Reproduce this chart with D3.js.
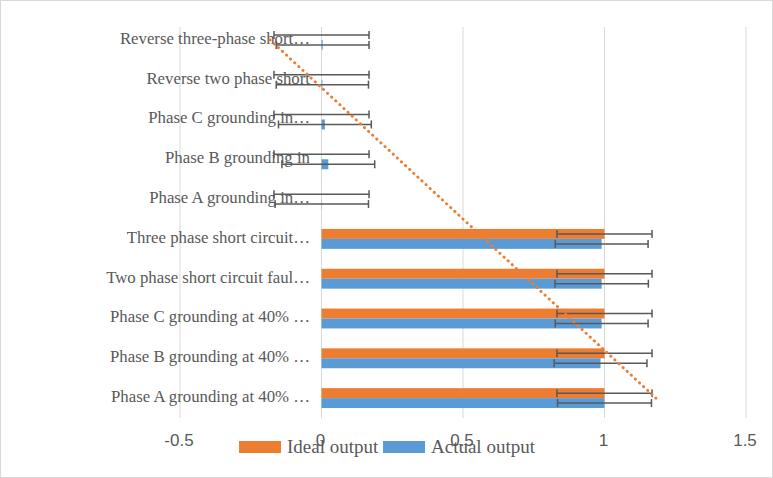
<!DOCTYPE html>
<html><head><meta charset="utf-8">
<script src="https://cdn.jsdelivr.net/npm/d3@7"></script>
<style>body{margin:0;background:#fff}svg{display:block}</style>
</head><body>
<script>
// Categories listed bottom-to-top (Excel order)
const categories = [
  "Phase A grounding at 40% …",
  "Phase B grounding at 40% …",
  "Phase C grounding at 40% …",
  "Two phase short circuit faul…",
  "Three phase short circuit…",
  "Phase A grounding in…",
  "Phase B grounding in",
  "Phase C grounding in…",
  "Reverse two phase short",
  "Reverse three-phase short…"
];
const seriesNames = ["Ideal output", "Actual output"];
const idealValues  = [1, 1, 1, 1, 1, 0, 0, 0, 0, 0];
const actualValues = [1.0, 0.986, 0.99, 0.99, 0.99, 0.001, 0.024, 0.012, 0.003, 0.004];
const idealErrors  = [0.168, 0.168, 0.168, 0.168, 0.168, 0.168, 0.168, 0.168, 0.168, 0.168];
const actualErrors = [0.166, 0.164, 0.164, 0.165, 0.164, 0.165, 0.164, 0.164, 0.163, 0.164];
const xTicks = [-0.5, 0, 0.5, 1, 1.5];
const xTickLabels = ["-0.5", "0", "0.5", "1", "1.5"];
const colors = ["#ED7D31", "#5B9BD5"];

const W = 773, H = 478;
const serif = "Liberation Serif, Times New Roman, serif";
const sans = "Liberation Sans, Arial, sans-serif";
const svg = d3.select("body").append("svg").attr("width", W).attr("height", H);
svg.append("rect").attr("x", 0.5).attr("y", 0.5).attr("width", W - 1).attr("height", H - 1)
  .attr("fill", "#fff").attr("stroke", "#d9d9d9");

const x = d3.scaleLinear().domain([-0.5, 1.5]).range([180, 746]);
const y = d3.scaleBand().domain(categories).range([418, 20]).paddingInner(0.5).paddingOuter(0.25);
const sub = d3.scaleBand().domain(seriesNames).range([0, y.bandwidth()]);

// gridlines
svg.append("g").selectAll("line").data(xTicks).join("line")
  .attr("x1", d => x(d)).attr("x2", d => x(d)).attr("y1", 27).attr("y2", 418)
  .attr("stroke", "#d9d9d9").attr("stroke-width", 1);

// tick labels
svg.append("g").selectAll("text").data(xTicks).join("text")
  .attr("x", d => x(d) - 1).attr("y", 442).attr("text-anchor", "middle")
  .attr("dominant-baseline", "middle")
  .attr("font-family", sans).attr("font-size", 17)
  .attr("fill", "#595959").text((d, i) => xTickLabels[i]);

// category labels
svg.append("g").selectAll("text").data(categories).join("text")
  .attr("x", 310).attr("y", d => y(d) + y.bandwidth() / 2).attr("text-anchor", "end")
  .attr("dominant-baseline", "middle")
  .attr("font-family", serif).attr("font-size", 16.8)
  .attr("fill", "#595959").text(d => d);

const allSeries = [
  {name: seriesNames[0], values: idealValues, errors: idealErrors, color: colors[0]},
  {name: seriesNames[1], values: actualValues, errors: actualErrors, color: colors[1]}
];

// bars
allSeries.forEach(s => {
  svg.append("g").selectAll("rect").data(categories).join("rect")
    .attr("x", (c, i) => Math.min(x(0), x(s.values[i])))
    .attr("width", (c, i) => Math.abs(x(s.values[i]) - x(0)))
    .attr("y", c => y(c) + sub(s.name))
    .attr("height", sub.bandwidth())
    .attr("fill", s.color);
});

// error bars
allSeries.forEach(s => {
  const g = svg.append("g").attr("stroke", "#595959").attr("stroke-width", 1.5);
  categories.forEach((c, i) => {
    const cy = y(c) + sub(s.name) + sub.bandwidth() / 2;
    const lo = x(s.values[i] - s.errors[i]), hi = x(s.values[i] + s.errors[i]);
    g.append("line").attr("x1", lo).attr("x2", hi).attr("y1", cy).attr("y2", cy);
    g.append("line").attr("x1", lo).attr("x2", lo).attr("y1", cy - 4).attr("y2", cy + 4);
    g.append("line").attr("x1", hi).attr("x2", hi).attr("y1", cy - 4).attr("y2", cy + 4);
  });
});

// linear trendline of Ideal output vs category index
const idx = idealValues.map((v, i) => i + 1);
const mx = d3.mean(idx), my = d3.mean(idealValues);
const slope = d3.sum(idx, (t, i) => (t - mx) * (idealValues[i] - my)) / d3.sum(idx, t => (t - mx) ** 2);
const icpt = my - slope * mx;
const trend = [0, categories.length - 1].map(i => ({v: icpt + slope * (i + 1), c: categories[i]}));
svg.append("path")
  .attr("d", d3.line().x(d => x(d.v)).y(d => y(d.c) + y.bandwidth() / 2)(trend))
  .attr("fill", "none").attr("stroke", "#ED7D31").attr("stroke-width", 3)
  .attr("stroke-dasharray", "0.1 5.5").attr("stroke-linecap", "round");

// legend
const legend = svg.append("g");
const lx = [239, 383];
allSeries.forEach((s, i) => {
  legend.append("rect").attr("x", lx[i]).attr("y", 441).attr("width", 42).attr("height", 12).attr("fill", s.color);
  legend.append("text").attr("x", lx[i] + 48).attr("y", 453)
    .attr("font-family", serif).attr("font-size", 19)
    .attr("fill", "#595959").text(s.name);
});
</script>
</body></html>
